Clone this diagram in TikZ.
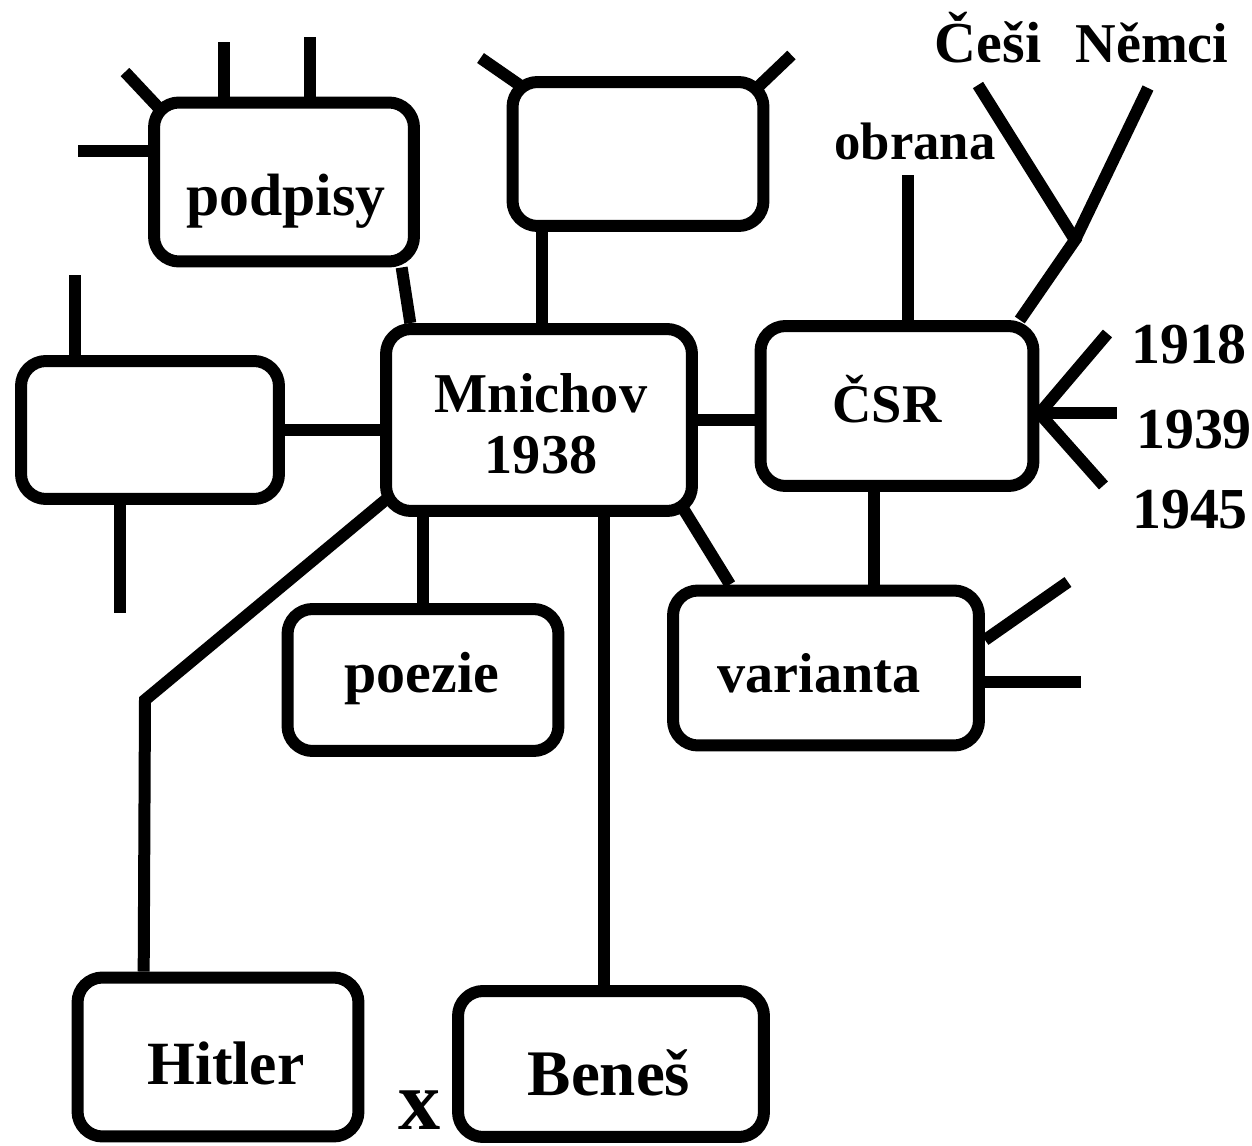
\documentclass[tikz,border=0pt]{standalone}
\usepackage{fontspec}
\setmainfont{Liberation Serif}
\usetikzlibrary{backgrounds}

\tikzset{
  box/.style={draw=black,fill=white,line width=0.24cm,rounded corners=0.5cm,inner sep=0pt},
  txt/.style={font=\bfseries\fontsize{#1}{35}\selectfont,inner sep=0pt,anchor=base},
  txt/.default=32,
  conn/.style={line width=0.24cm}
}

\begin{document}
\begin{tikzpicture}[line cap=round,line join=round,x=0.02cm,y=-0.02cm]

\useasboundingbox (0,0) rectangle (1252,1146);

% boxes
\node[box,minimum width=5.2cm,minimum height=3.18cm] (podpisy) at (284,182) {};
\node[box,minimum width=5.02cm,minimum height=2.88cm] (empty1) at (638,154) {};
\node[box,minimum width=5.16cm,minimum height=2.76cm] (empty2) at (150,430) {};
\node[box,minimum width=6.12cm,minimum height=3.64cm] (Mnichov) at (539,420) {};
\node[box,minimum width=5.46cm,minimum height=3.2cm] (CSR) at (897,406) {};
\node[box,minimum width=5.42cm,minimum height=2.84cm] (poezie) at (423,680) {};
\node[box,minimum width=6.12cm,minimum height=3.1cm] (varianta) at (826,668) {};
\node[box,minimum width=5.62cm,minimum height=3.18cm] (Hitler) at (218,1057) {};
\node[box,minimum width=6.12cm,minimum height=2.92cm] (Benes) at (611,1064) {};

% texts
\draw (286,215) node[txt=34] (podpisyT) {podpisy};
\draw (541,424) node[txt,anchor=center,align=center,font=\bfseries\fontsize{32}{34.6}\selectfont] (MnichovT) {Mnichov\\1938};
\draw (887,422) node[txt=31] (CSRT) {ČSR};
\draw (422,692) node[txt=33] (poezieT) {poezie};
\draw (819,692) node[txt] (variantaT) {varianta};
\draw (226,1084) node[txt=35] (HitlerT) {Hitler};
\draw (609,1095) node[txt=37] (BenesT) {Beneš};
\draw (915,159) node[txt=30] (obrana) {obrana};
\draw (988,62) node[txt=33] (cesi) {Češi};
\draw (1152,62) node[txt] (nemci) {Němci};
\draw (1189,363) node[txt=33] (y1918) {1918};
\draw (1194,448) node[txt=33] (y1939) {1939};
\draw (1190,528) node[txt=33] (y1945) {1945};
\draw (420,1129) node[txt=48] (versus) {x};

\coordinate (fork) at (1075,240);
\coordinate (bend) at (145,700);

\begin{pgfonlayer}{background}
% links to Mnichov
\draw[conn] (podpisy.-36) -- (Mnichov.143);
\draw[conn] (empty1.-141) -- (empty1.-141 |- Mnichov.north);
\draw[conn] (empty2.east) -- (empty2.east -| Mnichov.west);
\draw[conn] (Mnichov.east) -- (Mnichov.east -| CSR.west);
\draw[conn] (poezie.north) -- (poezie.north |- Mnichov.south);
\draw[conn,shorten <=-0.4cm] (Mnichov.-33) -- (varianta.139);
\draw[conn] (CSR.-105) -- (CSR.-105 |- varianta.north);
\draw[conn,shorten <=-0.5cm] (Mnichov.-152) -- (bend) -- (Hitler.131);
\draw[conn] (Benes.95) -- (Benes.95 |- Mnichov.south);
% free branches
\draw[conn,shorten <=-0.5cm] (podpisy.north west) -- (125,72);
\draw[conn] (podpisy.125) -- ++(0,-55);
\draw[conn] (podpisy.73) -- ++(0,-60);
\draw[conn] (podpisy.167) -- ++(-70,0);
\draw[conn,shorten >=-0.5cm] (empty1.north west) ++(-26,-18) -- (empty1.north west);
\draw[conn,shorten >=-0.5cm] (empty1.north east) ++(22,-21) -- (empty1.north east);
\draw[conn] (empty2.135) -- ++(0,-80);
\draw[conn] (empty2.-112) -- ++(0,108);
\draw[conn] (CSR.83) -- ++(0,-145);
\draw[conn] (CSR.35) -- (fork) -- (978,85);
\draw[conn] (fork) -- (1148,88);
\draw[conn] (CSR.-3) -- ++(68,-80);
\draw[conn] (CSR.-3) -- ++(78,0);
\draw[conn] (CSR.-3) -- ++(64,72);
\draw[conn] (varianta.10) -- ++(83,-58);
\draw[conn] (varianta.-5) -- ++(96,0);
\end{pgfonlayer}

\end{tikzpicture}
\end{document}
